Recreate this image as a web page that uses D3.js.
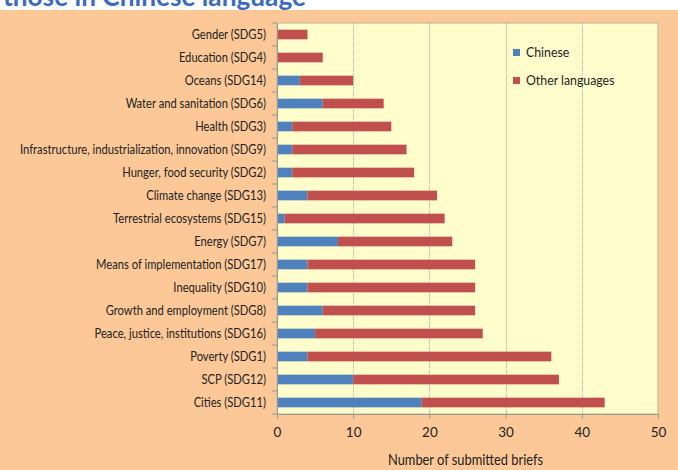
<!DOCTYPE html>
<html><head><meta charset="utf-8">
<script src="https://cdn.jsdelivr.net/npm/d3@7"></script>
<style>body{margin:0;background:#fff}svg{display:block}</style>
</head><body>
<svg id="c" width="678" height="470"></svg>
<script>
const categories = ["Gender (SDG5)","Education (SDG4)","Oceans (SDG14)","Water and sanitation (SDG6)","Health (SDG3)","Infrastructure, industrialization, innovation (SDG9)","Hunger, food security (SDG2)","Climate change (SDG13)","Terrestrial ecosystems (SDG15)","Energy (SDG7)","Means of implementation (SDG17)","Inequality (SDG10)","Growth and employment (SDG8)","Peace, justice, institutions (SDG16)","Poverty (SDG1)","SCP (SDG12)","Cities (SDG11)"];
const chinese = [0,0,3,6,2,2,2,4,1,8,4,4,6,5,4,10,19];
const otherLanguages = [4,6,7,8,13,15,16,17,21,15,22,22,20,22,32,27,24];
const seriesNames = ["Chinese","Other languages"];
const xTicks = [0,10,20,30,40,50];
const titleText = "those in Chinese language";
const xTitle = "Number of submitted briefs";

const colors = ["#4F81BD","#C0504D"];
const font = "Lato, 'Open Sans', sans-serif";
const svg = d3.select("#c");
const W = 678, H = 470;
const px0 = 277, px1 = 658, py0 = 23, py1 = 414;

function condense(sel, factor){
  sel.each(function(){
    const L = this.getComputedTextLength();
    d3.select(this).attr("textLength", L*factor).attr("lengthAdjust","spacingAndGlyphs");
  });
}

svg.append("rect").attr("x",0).attr("y",0).attr("width",W).attr("height",H).attr("fill","#fff");
svg.append("rect").attr("x",0).attr("y",10).attr("width",W).attr("height",H-10).attr("fill","#FCC897");
const title = svg.append("text").attr("x",3).attr("y",6).attr("font-family",font).attr("font-weight","bold")
  .attr("font-size",26).attr("fill","#3A6BC0").text(titleText);
condense(title, 303/title.node().getComputedTextLength());

const x = d3.scaleLinear().domain([0,50]).range([px0,px1]);
const y = d3.scaleBand().domain(categories).range([py0,py1]).paddingInner(0.58).paddingOuter(0.29);

svg.append("rect").attr("x",px0).attr("y",py0).attr("width",px1-px0).attr("height",py1-py0)
  .attr("fill","#FFFDCC").attr("stroke","#B9B39C").attr("stroke-width",1);

// gridlines
svg.append("g").selectAll("line").data(xTicks.filter(t=>t>0 && t<50)).join("line")
  .attr("x1",d=>Math.round(x(d))+0.5).attr("x2",d=>Math.round(x(d))+0.5)
  .attr("y1",py0).attr("y2",py1).attr("stroke","#B0B0A6").attr("stroke-dasharray","1,1");

// stacked bars
const stackData = categories.map((c,i)=>({cat:c, Chinese:chinese[i], "Other languages":otherLanguages[i]}));
const stacked = d3.stack().keys(seriesNames)(stackData);
svg.append("g").selectAll("g").data(stacked).join("g").attr("fill",(d,i)=>colors[i])
  .selectAll("rect").data(d=>d).join("rect")
  .attr("x",d=>x(d[0])).attr("width",d=>x(d[1])-x(d[0]))
  .attr("y",d=>y(d.data.cat)).attr("height",y.bandwidth());

// x axis
const xAxis = d3.axisBottom(x).tickValues(xTicks).tickSize(5).tickSizeOuter(0).tickPadding(8);
const gx = svg.append("g").attr("transform",`translate(0,${py1})`).call(xAxis);
gx.select(".domain").attr("stroke","#9A9A90");
gx.selectAll(".tick line").attr("stroke","#9A9A90");
gx.selectAll("text").attr("font-family",font).attr("font-size",13.5).attr("fill","#222");

// y axis
const yAxis = d3.axisLeft(y).tickSize(0).tickPadding(11);
const gy = svg.append("g").attr("transform",`translate(${px0},0)`).call(yAxis);
gy.select(".domain").attr("stroke","#9A9A90");
const yLabels = gy.selectAll("text").attr("font-family",font).attr("font-size",13.5).attr("fill","#222");
let maxL = 0;
yLabels.each(function(){ maxL = Math.max(maxL, this.getComputedTextLength()); });
condense(yLabels, 246/maxL);

// category boundary ticks
const bounds = d3.range(categories.length+1).map(i=>py0+i*y.step());
svg.append("g").selectAll("line").data(bounds).join("line")
  .attr("x1",px0-5).attr("x2",px0).attr("y1",d=>d).attr("y2",d=>d).attr("stroke","#9A9A90");

// x title
const xt = svg.append("text").attr("x",(px0+px1)/2-2).attr("y",465).attr("text-anchor","middle")
  .attr("font-family",font).attr("font-size",14.5).attr("fill","#222").text(xTitle);
condense(xt, 155/xt.node().getComputedTextLength());

// legend
const lg = svg.append("g");
seriesNames.forEach((s,i)=>{
  lg.append("rect").attr("x",513).attr("y",49+i*28).attr("width",7).attr("height",7).attr("fill",colors[i]);
  const t = lg.append("text").attr("x",526).attr("y",57+i*28).attr("font-family",font).attr("font-size",14)
    .attr("fill","#222").text(s);
  condense(t, 0.88);
});
</script>
</body></html>
